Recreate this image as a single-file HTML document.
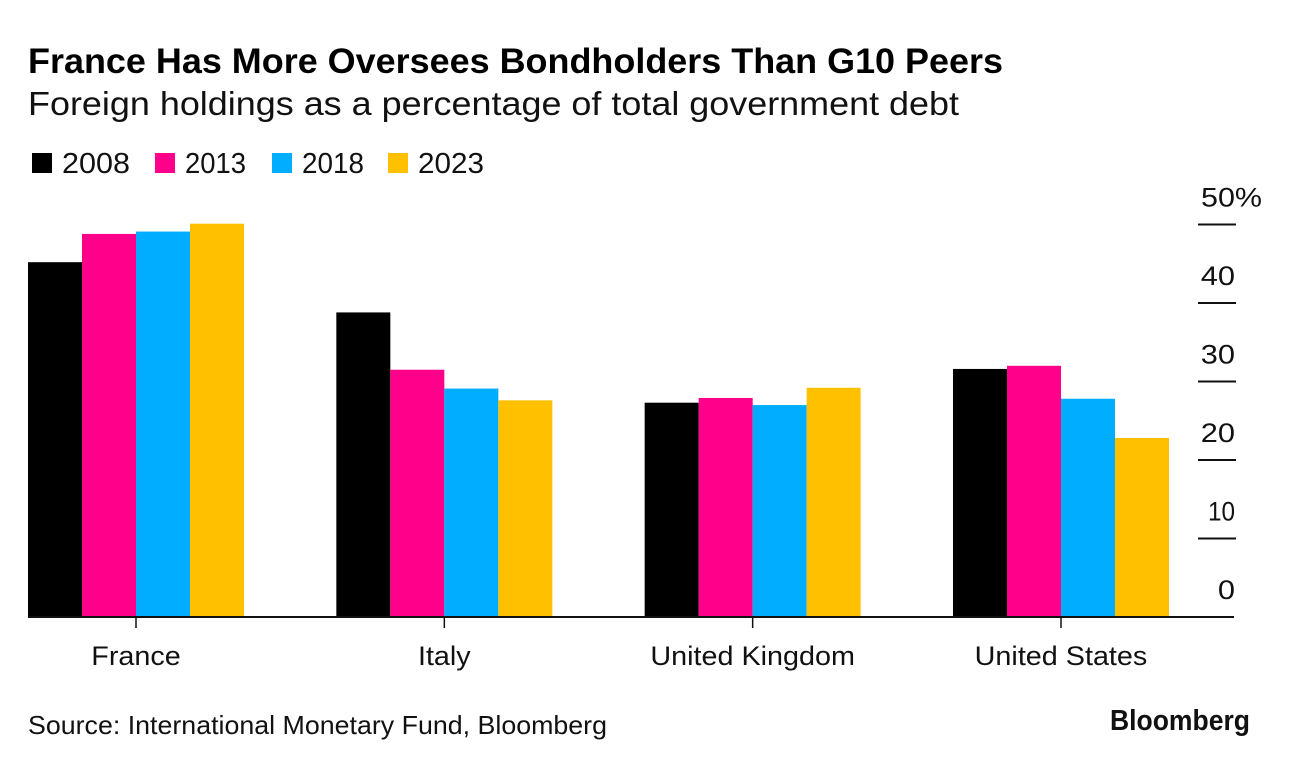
<!DOCTYPE html>
<html lang="en">
<head>
<meta charset="utf-8">
<title>France Has More Oversees Bondholders Than G10 Peers</title>
<style>
html,body{margin:0;padding:0;background:#fff;}
svg{display:block;font-family:"Liberation Sans",sans-serif;fill:#000;}
</style>
</head>
<body>
<svg id="chart" xmlns="http://www.w3.org/2000/svg" width="1289" height="766" viewBox="0 0 1289 766">
  <rect x="0" y="0" width="1289" height="766" fill="#fff"/>
  <text x="28" y="73" font-size="35" font-weight="700" textLength="975" lengthAdjust="spacingAndGlyphs">France Has More Oversees Bondholders Than G10 Peers</text>
  <text x="28" y="115" font-size="33.5" textLength="931" lengthAdjust="spacingAndGlyphs" fill="#111">Foreign holdings as a percentage of total government debt</text>
  <g id="legend"></g>
  <g id="bars"></g>
  <g id="y-axis"></g>
  <g id="x-axis"></g>
  <text x="28" y="734" font-size="26" textLength="579" lengthAdjust="spacingAndGlyphs" fill="#111">Source: International Monetary Fund, Bloomberg</text>
  <text x="1110" y="730" font-size="29" font-weight="700" textLength="140" lengthAdjust="spacingAndGlyphs" fill="#111">Bloomberg</text>
</svg>
<script>
var categories = ['France', 'Italy', 'United Kingdom', 'United States'];
var seriesNames = ['2008', '2013', '2018', '2023'];
var seriesColors = ['#000000', '#ff008a', '#00adff', '#ffc000'];
var values2008 = [45.2, 38.8, 27.3, 31.6];
var values2013 = [48.8, 31.5, 27.9, 32.0];
var values2018 = [49.1, 29.1, 27.0, 27.8];
var values2023 = [50.1, 27.6, 29.2, 22.8];
var yTicks = [0, 10, 20, 30, 40, 50];

var NS = 'http://www.w3.org/2000/svg';
var allSeries = [values2008, values2013, values2018, values2023];
var baseY = 617, pxPerUnit = 7.85;
var firstX = 28, groupStep = 308.33, barW = 54;
var legendSwatchX = [32, 155, 272, 388];
var legendLabelW = [68, 61, 62, 66];

function yScale(v) { return baseY - v * pxPerUnit; }
function xScale(catIndex, seriesIndex) { return firstX + catIndex * groupStep + seriesIndex * barW; }
function make(tag, attrs) {
  var el = document.createElementNS(NS, tag);
  for (var k in attrs) { el.setAttribute(k, attrs[k]); }
  return el;
}
function stretch(el, width) {
  el.setAttribute('textLength', width);
  el.setAttribute('lengthAdjust', 'spacingAndGlyphs');
}

var barsG = document.getElementById('bars');
allSeries.forEach(function (vals, s) {
  vals.forEach(function (v, c) {
    var r = make('rect', {x: xScale(c, s), y: yScale(v), width: barW, height: baseY - yScale(v), fill: seriesColors[s]});
    
    
    barsG.appendChild(r);
  });
});

var yG = document.getElementById('y-axis');
yTicks.forEach(function (t) {
  var y = yScale(t);
  if (t > 0) {
    var ln = make('rect', {x: 1198, y: y - 1, width: 38, height: 2, fill: '#111'});
    
    
    yG.appendChild(ln);
  }
  var lab = make('text', {x: 1235, y: y - 18, 'font-size': 26.5, 'text-anchor': 'end', fill: '#111'});
  
  
  lab.textContent = t;
  if (t === 50) {
    lab.setAttribute('x', 1201);
    lab.setAttribute('text-anchor', 'start');
    lab.textContent = t + '%';
  }
  yG.appendChild(lab);
  var natural = lab.getComputedTextLength();
  stretch(lab, t === 50 ? 61 : t === 10 ? 27 : natural * 1.16);
});

var xG = document.getElementById('x-axis');
var axisLine = make('rect', {x: 28, y: baseY - 1, width: 1206, height: 2, fill: '#111'});


xG.appendChild(axisLine);
categories.forEach(function (name, c) {
  var cx = xScale(c, 2);
  var tick = make('rect', {x: cx - 0.75, y: baseY, width: 1.5, height: 11, fill: '#111'});
  
  
  xG.appendChild(tick);
  var lab = make('text', {x: cx, y: 665, 'font-size': 26.5, 'text-anchor': 'middle', fill: '#111'});
  
  
  lab.textContent = name;
  xG.appendChild(lab);
  stretch(lab, lab.getComputedTextLength() * 1.085);
});

var legendG = document.getElementById('legend');
seriesNames.forEach(function (name, s) {
  var sw = make('rect', {x: legendSwatchX[s], y: 153, width: 20, height: 20, fill: seriesColors[s]});
  
  
  legendG.appendChild(sw);
  var lab = make('text', {x: legendSwatchX[s] + 30, y: 173, 'font-size': 28.5, fill: '#111'});
  
  
  lab.textContent = name;
  legendG.appendChild(lab);
  stretch(lab, legendLabelW[s]);
});
</script>
</body>
</html>
